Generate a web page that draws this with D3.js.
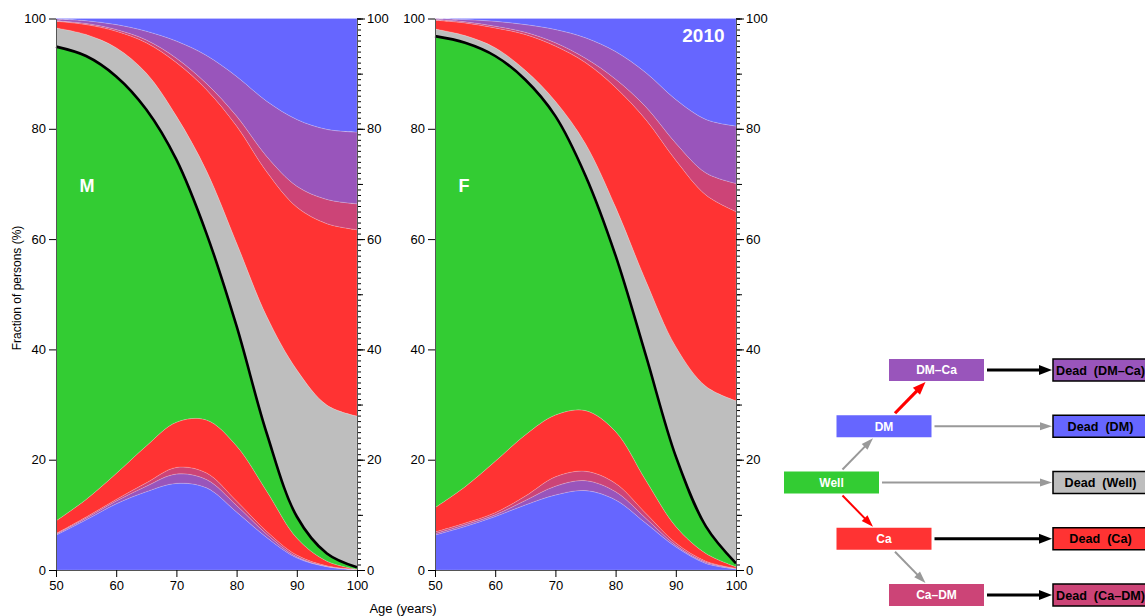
<!DOCTYPE html>
<html>
<head>
<meta charset="utf-8">
<script src="https://cdn.jsdelivr.net/npm/d3@7"></script>
<style>
  body { margin: 0; background: #fff; }
  text { font-family: "Liberation Sans", Arial, Helvetica, sans-serif; }
</style>
</head>
<body>
<script>
// ages on the x axis
const ages = [50, 55, 60, 65, 70, 75, 80, 85, 90, 95, 100];

// state order, bottom to top of the stack
const stateKeys = ["DM", "DM-Ca", "Ca-DM", "Ca", "Well",
  "Dead (Well)", "Dead (Ca)", "Dead (Ca-DM)", "Dead (DM-Ca)", "Dead (DM)"];

// Men, 2010 (% of persons in each state)
const maleDM        = [6.3, 9.1, 12.0, 14.2, 15.7, 14.9, 10.5, 5.9, 2.2, 0.6, 0.05];
const maleDMCa      = [0.2, 0.3, 0.5, 1.0, 1.7, 1.5, 1.2, 0.6, 0.2, 0.05, 0.01];
const maleCaDM      = [0.1, 0.2, 0.3, 0.6, 1.2, 1.2, 0.8, 0.5, 0.3, 0.1, 0.02];
const maleCa        = [2.3, 3.2, 4.7, 6.7, 8.2, 9.6, 10.0, 7.3, 3.1, 0.85, 0.07];
const maleWell      = [86.0, 80.4, 72.0, 61.0, 47.6, 33.8, 21.7, 10.5, 3.9, 1.4, 0.35];
const maleDeadWell  = [3.4, 3.9, 5.2, 6.6, 7.9, 11.4, 15.1, 21.2, 26.6, 26.9, 27.4];
const maleDeadCa    = [1.2, 1.8, 3.0, 5.5, 9.7, 14.7, 21.2, 26.2, 29.5, 32.9, 33.8];
const maleDeadCaDM  = [0.1, 0.2, 0.3, 0.5, 0.8, 1.1, 1.8, 2.8, 3.8, 4.4, 4.7];
const maleDeadDMCa  = [0.3, 0.5, 0.9, 1.6, 3.1, 5.1, 7.2, 10.0, 12.1, 12.7, 13.0];
const maleDeadDM    = [0.1, 0.4, 1.1, 2.3, 4.1, 6.7, 10.5, 15.0, 18.3, 20.1, 20.6];

// Women, 2010
const femaleDM       = [6.35, 7.9, 9.7, 11.8, 13.6, 14.4, 12.7, 8.5, 4.2, 1.2, 0.2];
const femaleDMCa     = [0.25, 0.3, 0.3, 0.8, 1.6, 1.8, 1.5, 0.9, 0.3, 0.2, 0.05];
const femaleCaDM     = [0.3, 0.3, 0.4, 0.8, 1.7, 1.7, 1.5, 0.9, 0.4, 0.2, 0.05];
const femaleCa       = [4.4, 6.6, 9.3, 11.1, 11.2, 11.0, 9.4, 6.0, 3.0, 1.4, 0.3];
const femaleWell     = [85.5, 80.5, 73.5, 64.4, 54.2, 42.6, 31.9, 22.7, 12.7, 4.9, 0.6];
const femaleDeadWell = [1.3, 1.3, 1.5, 1.7, 2.7, 5.8, 8.8, 13.5, 19.9, 25.4, 29.5];
const femaleDeadCa   = [1.6, 2.3, 3.6, 6.5, 10.0, 14.7, 21.7, 29.2, 33.8, 34.7, 34.3];
const femaleDeadCaDM = [0.1, 0.2, 0.3, 0.4, 0.6, 0.8, 1.5, 2.3, 3.1, 4.0, 5.1];
const femaleDeadDMCa = [0.2, 0.4, 0.9, 1.4, 2.4, 3.7, 5.0, 6.2, 7.9, 9.7, 10.4];
const femaleDeadDM   = [0.0, 0.2, 0.5, 1.1, 2.0, 3.5, 6.0, 9.8, 14.7, 18.3, 19.5];

const yTicks = [0, 20, 40, 60, 80, 100];
const xTicks = [50, 60, 70, 80, 90, 100];

const colors = {
  "DM": "#6666FF", "DM-Ca": "#9955BB", "Ca-DM": "#CC4477", "Ca": "#FF3333", "Well": "#33CC33",
  "Dead (Well)": "#BEBEBE", "Dead (Ca)": "#FF3333", "Dead (Ca-DM)": "#CC4477",
  "Dead (DM-Ca)": "#9955BB", "Dead (DM)": "#6666FF"
};

function buildRows(series) {
  return ages.map((a, i) => {
    const row = { age: a };
    stateKeys.forEach((k, j) => { row[k] = series[j][i]; });
    return row;
  });
}

const maleRows = buildRows([maleDM, maleDMCa, maleCaDM, maleCa, maleWell,
  maleDeadWell, maleDeadCa, maleDeadCaDM, maleDeadDMCa, maleDeadDM]);
const femaleRows = buildRows([femaleDM, femaleDMCa, femaleCaDM, femaleCa, femaleWell,
  femaleDeadWell, femaleDeadCa, femaleDeadCaDM, femaleDeadDMCa, femaleDeadDM]);

const svg = d3.select("body").append("svg")
  .attr("width", 1145)
  .attr("height", 616);

const yScale = d3.scaleLinear().domain([0, 100]).range([570, 18.5]);
const curve = d3.curveCatmullRom.alpha(0.5);

function drawPanel(rows, xRange, label, yearLabel) {
  const xScale = d3.scaleLinear().domain([50, 100]).range(xRange);
  const stack = d3.stack().keys(stateKeys);
  const layers = stack(rows);

  const area = d3.area()
    .x(d => xScale(d.data.age))
    .y0(d => yScale(Math.max(0, d[0])))
    .y1(d => yScale(d[1]))
    .curve(curve);

  const g = svg.append("g");

  g.selectAll(".layer")
    .data(layers)
    .enter()
    .append("path")
    .attr("class", "layer")
    .attr("d", area)
    .attr("fill", d => colors[d.key])
    .attr("stroke", "#ffffff")
    .attr("stroke-opacity", 0.3)
    .attr("stroke-width", 0.6);

  // alive / dead boundary
  const wellLayer = layers.find(l => l.key === "Well");
  const line = d3.line()
    .x(d => xScale(d.data.age))
    .y(d => yScale(d[1]))
    .curve(curve);
  g.append("path")
    .attr("d", line(wellLayer))
    .attr("fill", "none")
    .attr("stroke", "#000")
    .attr("stroke-width", 2.6);

  // axes
  const axisStyle = sel => {
    sel.selectAll("text").style("font-size", "13px").attr("fill", "#000");
    sel.selectAll("line").attr("stroke", "#000");
    sel.select(".domain").attr("stroke", "#555");
  };

  g.append("g")
    .attr("transform", `translate(${xRange[0]},0)`)
    .call(d3.axisLeft(yScale).tickValues(yTicks).tickSize(7).tickPadding(3).tickSizeOuter(0))
    .call(axisStyle);

  g.append("g")
    .attr("transform", "translate(0,570)")
    .call(d3.axisBottom(xScale).tickValues(xTicks).tickSize(7).tickPadding(4).tickSizeOuter(0))
    .call(axisStyle);

  // right axis: minor every 1, medium every 10, labelled every 20
  const right = g.append("g").attr("transform", `translate(${xRange[1]},0)`);
  right.append("g")
    .call(d3.axisRight(yScale).tickValues(d3.range(0, 101, 1)).tickSize(4).tickFormat("").tickSizeOuter(0))
    .call(axisStyle);
  right.append("g")
    .call(d3.axisRight(yScale).tickValues(d3.range(0, 101, 10)).tickSize(6).tickFormat("").tickSizeOuter(0))
    .call(axisStyle);
  right.append("g")
    .call(d3.axisRight(yScale).tickValues(yTicks).tickSize(8).tickPadding(2).tickSizeOuter(0))
    .call(axisStyle);

  g.append("text")
    .attr("x", xScale(53.9))
    .attr("y", yScale(68.5))
    .attr("fill", "#fff")
    .attr("font-weight", "bold")
    .style("font-size", "18px")
    .text(label);

  if (yearLabel) {
    g.append("text")
      .attr("x", xScale(98.1))
      .attr("y", yScale(95.7))
      .attr("text-anchor", "end")
      .attr("fill", "#fff")
      .attr("font-weight", "bold")
      .style("font-size", "19px")
      .text(yearLabel);
  }
}

drawPanel(maleRows, [56, 357], "M", null);
drawPanel(femaleRows, [435, 736], "F", "2010");

svg.append("text")
  .attr("transform", "translate(21,288) rotate(-90)")
  .attr("text-anchor", "middle")
  .style("font-size", "12px")
  .text("Fraction of persons (%)");

svg.append("text")
  .attr("x", 403)
  .attr("y", 613)
  .attr("text-anchor", "middle")
  .style("font-size", "13px")
  .text("Age (years)");

// ---- state diagram ----
const boxW = 95, boxH = 22;
const rowY = d3.scaleLinear().domain([0, 4]).range([370, 595]);
const colX = d3.scaleLinear().domain([0, 2]).range([831.5, 936.5]);
const deadX = 1100.5;

const boxes = [
  { name: "DM–Ca", key: "DM-Ca", col: 2, row: 0 },
  { name: "DM", key: "DM", col: 1, row: 1 },
  { name: "Well", key: "Well", col: 0, row: 2 },
  { name: "Ca", key: "Ca", col: 1, row: 3 },
  { name: "Ca–DM", key: "Ca-DM", col: 2, row: 4 }
];
const deadBoxes = [
  { name: "Dead  (DM–Ca)", key: "Dead (DM-Ca)", row: 0, from: "DM-Ca", color: "#000", w: 3.2 },
  { name: "Dead  (DM)", key: "Dead (DM)", row: 1, from: "DM", color: "#999", w: 2 },
  { name: "Dead  (Well)", key: "Dead (Well)", row: 2, from: "Well", color: "#999", w: 2 },
  { name: "Dead  (Ca)", key: "Dead (Ca)", row: 3, from: "Ca", color: "#000", w: 3 },
  { name: "Dead  (Ca–DM)", key: "Dead (Ca-DM)", row: 4, from: "Ca-DM", color: "#000", w: 3 }
];
const transitions = [
  { from: "Well", to: "DM", color: "#999", w: 2 },
  { from: "DM", to: "DM-Ca", color: "#FF0000", w: 3.2 },
  { from: "Well", to: "Ca", color: "#FF0000", w: 2 },
  { from: "Ca", to: "Ca-DM", color: "#999", w: 2 }
];

const dg = svg.append("g");

function arrow(x1, y1, x2, y2, color, w) {
  const len = Math.hypot(x2 - x1, y2 - y1);
  const ux = (x2 - x1) / len, uy = (y2 - y1) / len;
  const hl = w > 2.5 ? 13 : 12, hw = w > 2.5 ? 5 : 4;
  const bx = x2 - ux * hl, by = y2 - uy * hl;
  dg.append("line")
    .attr("x1", x1).attr("y1", y1)
    .attr("x2", bx + ux * 1).attr("y2", by + uy * 1)
    .attr("stroke", color).attr("stroke-width", w);
  dg.append("path")
    .attr("d", `M${x2},${y2}L${bx - uy * hw},${by + ux * hw}L${bx + uy * hw},${by - ux * hw}Z`)
    .attr("fill", color);
}

const boxByKey = {};
boxes.forEach(b => { boxByKey[b.key] = { cx: colX(b.col), cy: rowY(b.row) }; });

transitions.forEach(t => {
  const a = boxByKey[t.from], b = boxByKey[t.to];
  const up = b.cy < a.cy;
  const x1 = a.cx + 11, x2 = b.cx - 11;
  const y1 = up ? a.cy - boxH / 2 - 2 : a.cy + boxH / 2 + 2;
  const y2 = up ? b.cy + boxH / 2 + 1 : b.cy - boxH / 2 - 1;
  arrow(x1, y1, x2, y2, t.color, t.w);
});

deadBoxes.forEach(d => {
  const a = boxByKey[d.from];
  arrow(a.cx + boxW / 2 + 3, rowY(d.row), deadX - boxW / 2 - 1, rowY(d.row), d.color, d.w);
});

dg.selectAll(".state")
  .data(boxes)
  .enter()
  .append("rect")
  .attr("x", d => colX(d.col) - boxW / 2)
  .attr("y", d => rowY(d.row) - boxH / 2)
  .attr("width", boxW)
  .attr("height", boxH)
  .attr("fill", d => colors[d.key]);

dg.selectAll(".stateLabel")
  .data(boxes)
  .enter()
  .append("text")
  .attr("x", d => colX(d.col))
  .attr("y", d => rowY(d.row) + 4.3)
  .attr("text-anchor", "middle")
  .attr("fill", "#fff")
  .attr("font-weight", "bold")
  .style("font-size", "12px")
  .text(d => d.name);

dg.selectAll(".dead")
  .data(deadBoxes)
  .enter()
  .append("rect")
  .attr("x", deadX - boxW / 2)
  .attr("y", d => rowY(d.row) - boxH / 2)
  .attr("width", boxW)
  .attr("height", boxH)
  .attr("fill", d => colors[d.key])
  .attr("stroke", "#000")
  .attr("stroke-width", 1.5);

dg.selectAll(".deadLabel")
  .data(deadBoxes)
  .enter()
  .append("text")
  .attr("x", deadX)
  .attr("y", d => rowY(d.row) + 4.5)
  .attr("text-anchor", "middle")
  .attr("fill", "#000")
  .attr("font-weight", "bold")
  .style("font-size", "12.6px")
  .style("white-space", "pre")
  .text(d => d.name);
</script>
</body>
</html>
